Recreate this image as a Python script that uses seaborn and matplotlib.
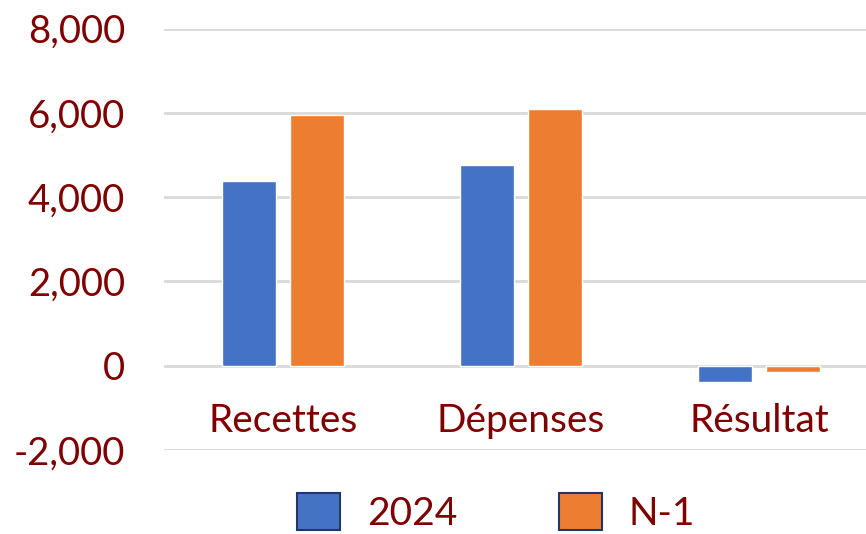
import matplotlib
matplotlib.use("Agg")
import matplotlib.pyplot as plt
import seaborn as sns
import pandas as pd
from matplotlib.ticker import FuncFormatter

# data
categories = ["Recettes", "Dépenses", "Résultat"]
series = ["2024", "N-1"]
values_2024 = [4380, 4760, -375]
values_n1 = [5950, 6090, -140]
yticks = [-2000, 0, 2000, 4000, 6000, 8000]

BLUE = "#4472C4"
ORANGE = "#ED7D31"
TEXT = "#7F0000"
GRID = "#D9D9D9"

df = pd.DataFrame({
    "categorie": categories * 2,
    "serie": [series[0]] * 3 + [series[1]] * 3,
    "valeur": values_2024 + values_n1,
})

sns.set_style("white")
plt.rcParams["font.family"] = ["Lato", "DejaVu Sans"]

fig = plt.figure(figsize=(8.66, 5.34), dpi=100)
ax = fig.add_axes([164 / 866, 84 / 534, 714 / 866, 0.789])

sns.barplot(data=df, x="categorie", y="valeur", hue="serie",
            palette=[BLUE, ORANGE], width=0.571, gap=0.206,
            saturation=1, ax=ax, errorbar=None)

ax.set_ylim(-2000, 8000)
ax.set_xlim(-0.5, 2.5)
ax.set_yticks(yticks)
ax.yaxis.set_major_formatter(FuncFormatter(lambda v, _: f"{int(v):,}"))
ax.grid(axis="y", color=GRID, linewidth=2)
ax.set_axisbelow(True)
for s in ax.spines.values():
    s.set_visible(False)
ax.spines["bottom"].set_position(("data", 0))

ax.tick_params(axis="y", length=0, pad=28, labelsize=27.5, labelcolor=TEXT)
ax.tick_params(axis="x", length=0, pad=27, labelsize=28, labelcolor=TEXT)
ax.set_xlabel("")
ax.set_ylabel("")

# legend at bottom, close to the figure edge
handles, labels = ax.get_legend_handles_labels()
ax.get_legend().remove()
for h in handles:
    h.set_edgecolor("#1F3864")
    h.set_linewidth(1.5)
leg = fig.legend(handles, labels, loc="upper center", ncol=2,
                 bbox_to_anchor=(0.573, 0.128), frameon=False,
                 fontsize=28, handlelength=1.1, handleheight=1.1,
                 handletextpad=0.7, columnspacing=2.6, borderpad=0.2)
for t in leg.get_texts():
    t.set_color(TEXT)

fig.savefig("out.png", dpi=100, facecolor="white")
